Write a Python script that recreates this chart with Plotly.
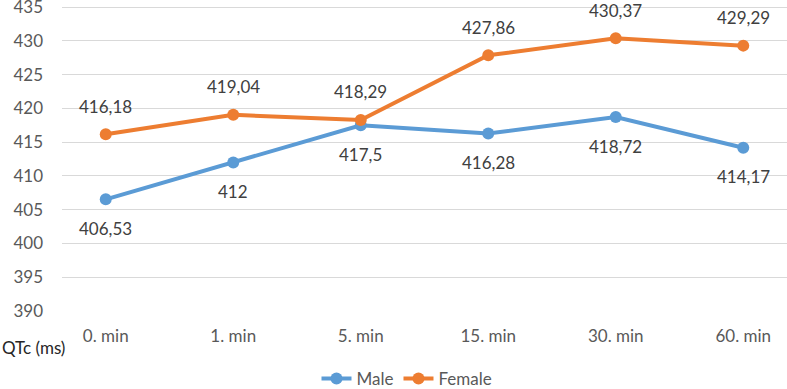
import plotly.graph_objects as go

categories = ["0. min", "1. min", "5. min", "15. min", "30. min", "60. min"]
male = [406.53, 412.0, 417.5, 416.28, 418.72, 414.17]
female = [416.18, 419.04, 418.29, 427.86, 430.37, 429.29]
male_labels = ["406,53", "412", "417,5", "416,28", "418,72", "414,17"]
female_labels = ["416,18", "419,04", "418,29", "427,86", "430,37", "429,29"]
y_ticks = [390, 395, 400, 405, 410, 415, 420, 425, 430, 435]

MALE_C = "#5B9BD5"
FEMALE_C = "#ED7D31"
FONT = "Lato"
TXT = "#404040"

fig = go.Figure()
fig.add_trace(go.Scatter(x=categories, y=male, name="Male", mode="lines+markers",
                         line=dict(color=MALE_C, width=4), marker=dict(size=12, color=MALE_C)))
fig.add_trace(go.Scatter(x=categories, y=female, name="Female", mode="lines+markers",
                         line=dict(color=FEMALE_C, width=4), marker=dict(size=12, color=FEMALE_C)))

anns = []
for c, v, t in zip(categories, male, male_labels):
    anns.append(dict(x=c, y=v, text=t, showarrow=False, yshift=-29,
                     font=dict(family=FONT, size=17, color=TXT)))
for c, v, t in zip(categories, female, female_labels):
    anns.append(dict(x=c, y=v, text=t, showarrow=False, yshift=28,
                     font=dict(family=FONT, size=17, color=TXT)))
plot_h = 389 - 2 - 78
anns.append(dict(xref="paper", yref="paper", x=-62/725, y=-(347-311)/plot_h, xanchor="left",
                 yanchor="middle", text="QTc (ms)", showarrow=False,
                 font=dict(family=FONT, size=17, color="#262626")))

fig.update_layout(
    width=787, height=389,
    margin=dict(l=62, r=0, t=2, b=78, autoexpand=False),
    paper_bgcolor="white", plot_bgcolor="white",
    font=dict(family=FONT, size=17, color="#595959"),
    showlegend=True,
    legend=dict(orientation="h", x=(407-62)/725, xanchor="center", y=-(379-311)/plot_h,
                yanchor="middle", font=dict(family=FONT, size=17, color="#595959"),
                itemwidth=30, tracegroupgap=0),
    annotations=anns,
)
fig.update_xaxes(showgrid=False, showline=False, zeroline=False, ticks="", automargin=False,
                 ticklabelstandoff=13, tickfont=dict(family=FONT, size=17, color="#595959"))
fig.update_yaxes(range=[390, 435.75], tickvals=y_ticks, showgrid=True, gridcolor="#D9D9D9",
                 gridwidth=1, zeroline=False, showline=False, ticks="", automargin=False,
                 ticklabeloverflow="allow",
                 ticklabelstandoff=18, tickfont=dict(family=FONT, size=17, color="#595959"))

fig.write_html("out.html", config={"displayModeBar": False},
               post_script=["document.body.style.margin='0';document.body.style.overflow='hidden';"])
